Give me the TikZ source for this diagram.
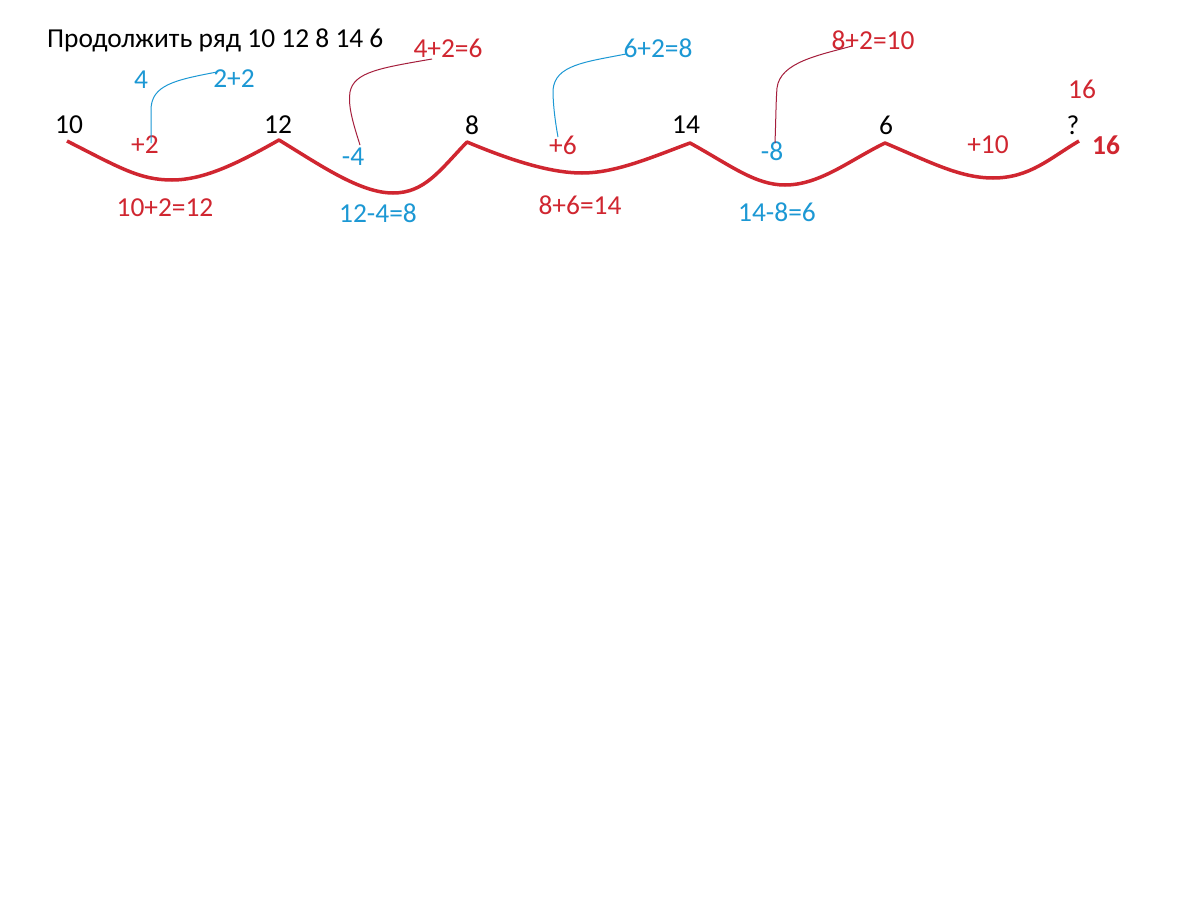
\documentclass[tikz,border=0pt]{standalone}
\usepackage{fontspec}
\setmainfont{Carlito}
\definecolor{myred}{RGB}{208,38,48}
\definecolor{myblue}{RGB}{28,152,212}
\definecolor{linkred}{RGB}{165,30,60}
\begin{document}
\begin{tikzpicture}[x=1pt,y=-1pt,
  txt/.style={inner sep=0pt,font=\fontsize{27.4}{32}\selectfont},
  blk/.style={txt,text=black},
  rd/.style={txt,text=myred},
  bl/.style={txt,text=myblue},
  wave/.style={draw=myred,line width=3.5pt,line join=round},
  linkb/.style={draw=myblue,line width=1pt},
  linkr/.style={draw=linkred,line width=1pt}]
\useasboundingbox[fill=white] (0,0) rectangle (1186,902);
% title
\node[blk,anchor=base west] (title) at (47,47) {Продолжить ряд 10 12 8 14 6};
% sequence
\node[blk] (n1) at (69,125) {10};
\node[blk] (n2) at (278,125) {12};
\node[blk] (n3) at (472,125) {8};
\node[blk] (n4) at (686,125) {14};
\node[blk] (n5) at (886,125) {6};
\node[blk] (n6) at (1073,125) {?};
\node[rd] (a16) at (1082,89) {16};
\node[rd,font=\fontsize{27.4}{32}\selectfont\bfseries] (b16) at (1106,145) {16};
% differences
\node[rd] (d1) at (145,145) {+2};
\node[bl] (d2) at (353,157) {-4};
\node[rd] (d3) at (563,145) {+6};
\node[bl] (d4) at (772,151) {-8};
\node[rd] (d5) at (988,145) {+10};
% equations
\node[rd] (e1) at (165,208) {10+2=12};
\node[bl] (e2) at (378,213) {12-4=8};
\node[rd] (e3) at (580,205) {8+6=14};
\node[bl] (e4) at (777,212) {14-8=6};
% second level
\node[bl] (s0) at (141,80) {4};
\node[bl] (s1) at (234,79) {2+2};
\node[rd] (s2) at (448,48) {4+2=6};
\node[bl] (s3) at (658,48) {6+2=8};
\node[rd] (s4) at (873,40) {8+2=10};
% wave points
\coordinate (w0) at (67,141);
\coordinate (w1) at (279,140);
\coordinate (w2) at (467,142);
\coordinate (w3) at (690,143);
\coordinate (w4) at (885,143);
\coordinate (w5) at (1079,141);
\draw[wave] (w0) .. controls (120,168) and (140,180) .. (172,180)
  .. controls (205,180) and (240,162) .. (w1)
  .. controls (320,165) and (360,193) .. (393,193)
  .. controls (425,193) and (440,170) .. (w2)
  .. controls (510,160) and (550,173) .. (582,173)
  .. controls (615,173) and (650,158) .. (w3)
  .. controls (730,165) and (755,185) .. (785,185)
  .. controls (820,185) and (850,160) .. (w4)
  .. controls (930,162) and (960,178) .. (993,178)
  .. controls (1030,178) and (1050,158) .. (w5);
% links
\coordinate (l1a) at (151,143);
\coordinate (l1b) at (217,72);
\draw[linkb] (l1a) -- (151,110) .. controls (151,85) and (175,80) .. (l1b);
\coordinate (l2a) at (360,145);
\coordinate (l2b) at (432,59);
\draw[linkr] (l2a) .. controls (352,120) and (348,105) .. (350,92)
  .. controls (354,72) and (380,68) .. (l2b);
\coordinate (l3a) at (558,137);
\coordinate (l3b) at (626,54);
\draw[linkb] (l3a) .. controls (554,115) and (553,100) .. (553,90)
  .. controls (555,65) and (585,62) .. (l3b);
\coordinate (l4a) at (775,143);
\coordinate (l4b) at (852,46);
\draw[linkr] (l4a) .. controls (776,115) and (776,100) .. (777,88)
  .. controls (780,62) and (820,55) .. (l4b);
\end{tikzpicture}
\end{document}
